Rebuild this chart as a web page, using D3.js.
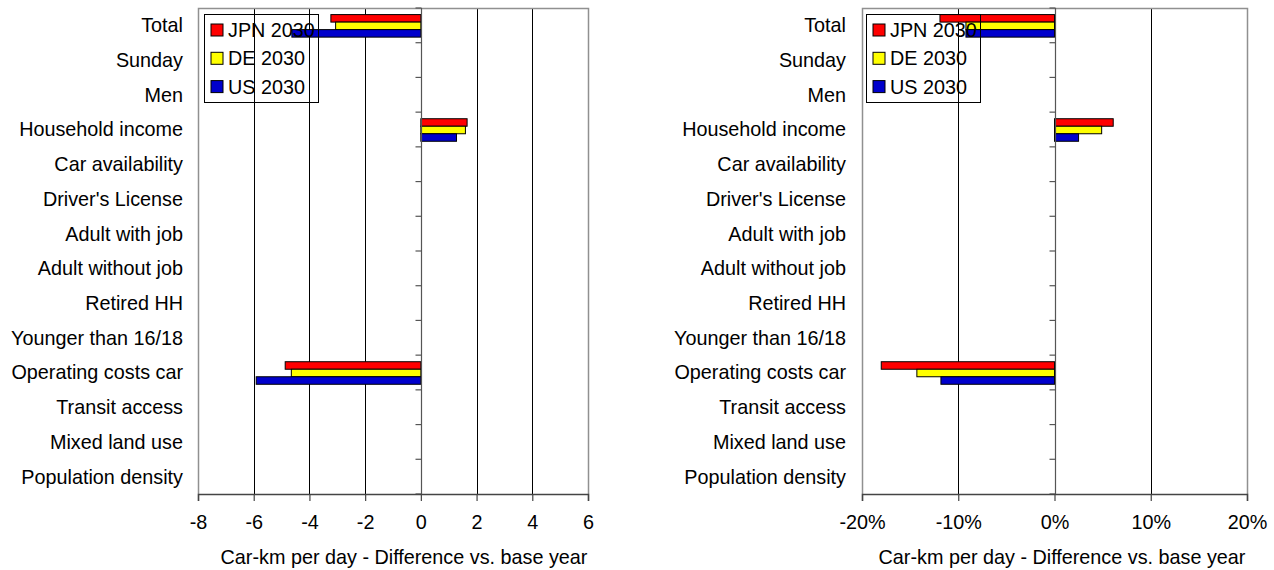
<!DOCTYPE html>
<html>
<head>
<meta charset="utf-8">
<script src="https://cdn.jsdelivr.net/npm/d3@7"></script>
<style>
  html, body { margin: 0; padding: 0; background: #fff; }
  svg { display: block; font-family: "Liberation Sans", Arial, sans-serif; }
</style>
</head>
<body>
<svg id="chart" width="1274" height="570"></svg>
<script>
// Categories, top to bottom
const categories = [
  "Total", "Sunday", "Men", "Household income", "Car availability",
  "Driver's License", "Adult with job", "Adult without job", "Retired HH",
  "Younger than 16/18", "Operating costs car", "Transit access",
  "Mixed land use", "Population density"
];

const seriesNames = ["JPN 2030", "DE 2030", "US 2030"];
const seriesColors = ["#FF0000", "#FFFF00", "#0000CC"];

// Car-km per day, absolute difference vs. base year
const jpnAbs = [-3.23, 0, 0, 1.66, 0, 0, 0, 0, 0, 0, -4.87, 0, 0, 0];
const deAbs  = [-3.06, 0, 0, 1.60, 0, 0, 0, 0, 0, 0, -4.65, 0, 0, 0];
const usAbs  = [-4.63, 0, 0, 1.28, 0, 0, 0, 0, 0, 0, -5.91, 0, 0, 0];

// Car-km per day, relative difference vs. base year (%)
const jpnPct = [-11.9, 0, 0, 6.1, 0, 0, 0, 0, 0, 0, -18.0, 0, 0, 0];
const dePct  = [-9.2,  0, 0, 4.9, 0, 0, 0, 0, 0, 0, -14.3, 0, 0, 0];
const usPct  = [-9.2,  0, 0, 2.5, 0, 0, 0, 0, 0, 0, -11.8, 0, 0, 0];

const absTicks = [-8, -6, -4, -2, 0, 2, 4, 6];
const pctTicks = [-20, -10, 0, 10, 20];

const axisTitle = "Car-km per day - Difference vs. base year";

const svg = d3.select("#chart");
const FONT = 19.8;

function drawPanel(opts) {
  const { left, right, top, bottom, domain, ticks, fmt, series, labelX, titleX, legendX } = opts;
  const g = svg.append("g");

  const x = d3.scaleLinear().domain(domain).range([left, right]);
  const y = d3.scaleBand().domain(categories).range([top, bottom]).paddingInner(0).paddingOuter(0);
  const ySub = d3.scaleBand().domain(seriesNames).range([0, y.bandwidth()])
    .paddingInner(0).paddingOuter(0.81);

  // vertical gridlines at major ticks (inside plot)
  g.selectAll("line.grid")
    .data(ticks.filter(t => t !== domain[0] && t !== domain[1] && t !== 0))
    .join("line")
    .attr("class", "grid")
    .attr("x1", d => Math.round(x(d)) + 0.5).attr("x2", d => Math.round(x(d)) + 0.5)
    .attr("y1", top).attr("y2", bottom)
    .attr("stroke", "#000").attr("stroke-width", 1);

  // plot border (top, left, right)
  g.append("path")
    .attr("d", `M${Math.round(left) + 0.5},${bottom} V${top + 0.5} H${Math.round(right) + 0.5} V${bottom}`)
    .attr("fill", "none").attr("stroke", "#909090").attr("stroke-width", 1.5);

  // bars
  series.forEach((vals, si) => {
    const data = vals.map((v, i) => ({ cat: categories[i], v })).filter(d => d.v !== 0);
    g.selectAll(null)
      .data(data)
      .join("rect")
      .attr("x", d => x(Math.min(0, d.v)))
      .attr("width", d => Math.abs(x(d.v) - x(0)))
      .attr("y", d => y(d.cat) + ySub(seriesNames[si]) + 0.5)
      .attr("height", ySub.bandwidth())
      .attr("fill", seriesColors[si])
      .attr("stroke", "#000").attr("stroke-width", 1);
  });

  // category axis at zero with ticks to the left
  const zx = Math.round(x(0)) + 0.5;
  g.append("line")
    .attr("x1", zx).attr("x2", zx).attr("y1", top).attr("y2", bottom)
    .attr("stroke", "#555").attr("stroke-width", 1.2);
  const bounds = d3.range(categories.length + 1).map(i => top + i * y.step());
  g.selectAll(null)
    .data(bounds)
    .join("line")
    .attr("x1", zx - 6).attr("x2", zx)
    .attr("y1", d => d).attr("y2", d => d)
    .attr("stroke", "#555").attr("stroke-width", 1.2);

  // value axis at bottom
  const axis = d3.axisBottom(x).tickValues(ticks).tickFormat(fmt).tickSize(7).tickPadding(14);
  const ax = g.append("g").attr("transform", `translate(0,${bottom})`).call(axis);
  ax.select(".domain").attr("stroke", "#444").attr("stroke-width", 1.5);
  ax.selectAll(".tick line").attr("stroke", "#444").attr("stroke-width", 1.2);
  ax.selectAll(".tick text")
    .attr("font-size", FONT).attr("fill", "#000")
    .attr("font-family", "Liberation Sans, Arial, sans-serif");

  // category labels
  g.selectAll(null)
    .data(categories)
    .join("text")
    .attr("x", labelX)
    .attr("y", d => y(d) + y.bandwidth() / 2)
    .attr("dy", "0.35em")
    .attr("text-anchor", "end")
    .attr("font-size", FONT)
    .text(d => d);

  // axis title
  g.append("text")
    .attr("x", titleX).attr("y", 564)
    .attr("text-anchor", "middle")
    .attr("font-size", FONT)
    .text(axisTitle);

  // legend (transparent box drawn over the bars)
  const lg = g.append("g");
  lg.append("rect")
    .attr("x", legendX + 0.5).attr("y", 14.5)
    .attr("width", 114).attr("height", 88)
    .attr("fill", "none").attr("stroke", "#000").attr("stroke-width", 1);
  seriesNames.forEach((name, i) => {
    const cy = 30 + i * 28.3;
    lg.append("rect")
      .attr("x", legendX + 7).attr("y", cy - 6)
      .attr("width", 12).attr("height", 12)
      .attr("fill", seriesColors[i]).attr("stroke", "#000").attr("stroke-width", 1);
    lg.append("text")
      .attr("x", legendX + 24).attr("y", cy)
      .attr("dy", "0.35em")
      .attr("font-size", FONT)
      .text(name);
  });
}

drawPanel({
  left: 198, right: 588, top: 8, bottom: 494,
  domain: [-8, 6], ticks: absTicks, fmt: d => d3.format("d")(d).replace("−", "-"),
  series: [jpnAbs, deAbs, usAbs],
  labelX: 183, titleX: 404, legendX: 204
});

drawPanel({
  left: 862, right: 1247, top: 8, bottom: 494,
  domain: [-20, 20], ticks: pctTicks, fmt: d => d + "%",
  series: [jpnPct, dePct, usPct],
  labelX: 846, titleX: 1062, legendX: 866
});
</script>
</body>
</html>
